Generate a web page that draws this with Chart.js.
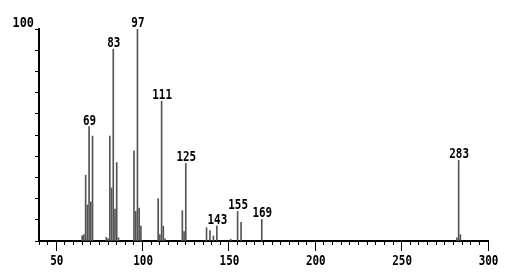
<!DOCTYPE html>
<html>
<head>
<meta charset="utf-8">
<script src="https://cdn.jsdelivr.net/npm/chart.js@4/dist/chart.umd.min.js"></script>
<style>
html,body{margin:0;padding:0;background:#fff;}
#wrap{width:522px;height:274px;position:relative;}
</style>
</head>
<body>
<div id="wrap"><canvas id="c" width="522" height="274"></canvas></div>
<script>
// m/z values of the peaks
const mz = [65,66,67,68,69,70,71,79,80,81,82,83,84,85,86,95,96,97,98,99,109,110,111,112,113,123,124,125,137,139,141,143,151,155,157,169,282,283,284];
// relative intensities (%)
const intensity = [2.5,3,31,17,54,18.5,49.5,1.7,1,49.5,25,90.5,15,37,1.5,42.5,14,100,15.5,7,20,3,66,7,1,14.3,4.4,36.6,6.3,4.9,2.4,7,0.8,14,8.8,10.2,1.5,38,3];
// peaks carrying a m/z label
const labeledPeaks = [69,83,97,111,125,143,155,169,283];
// axis tick labels
const xTickLabels = [50,100,150,200,250,300];
const yTickLabels = [100];

const FONT = "'DejaVu Sans Mono',monospace";
const SX = 0.78; // horizontal condensing of the narrow bitmap-like font

function drawNarrow(ctx, text, x, y, align, font, sx) {
  ctx.save();
  ctx.font = font;
  ctx.textAlign = align;
  ctx.textBaseline = 'alphabetic';
  ctx.translate(x, y);
  ctx.scale(sx, 1);
  ctx.fillText(text, 0, 0);
  ctx.restore();
}

const textLayer = {
  id: 'textLayer',
  afterDraw(chart) {
    const ctx = chart.ctx, xs = chart.scales.x, ys = chart.scales.y;
    ctx.save();
    ctx.fillStyle = '#000';
    // peak labels
    labeledPeaks.forEach(m => {
      const i = mz.indexOf(m);
      if (i < 0) return;
      const px = xs.getPixelForValue(m);
      const py = ys.getPixelForValue(intensity[i]);
      drawNarrow(ctx, String(m), px + 0.5, py - 2, 'center', "bold 14px " + FONT, SX);
    });
    // x tick labels
    xTickLabels.forEach(v => {
      drawNarrow(ctx, String(v), xs.getPixelForValue(v) + 0.5, xs.top + 24, 'center', "bold 14px " + FONT, SX);
    });
    // y tick labels
    yTickLabels.forEach(v => {
      drawNarrow(ctx, String(v), ys.left + ys.width - 5, ys.getPixelForValue(v) - 2, 'right', "bold 14px " + FONT, 0.85);
    });
    ctx.restore();
  }
};

new Chart(document.getElementById('c'), {
  type: 'bar',
  data: {
    datasets: [{
      data: mz.map((m, i) => ({x: m, y: intensity[i]})),
      backgroundColor: '#555',
      borderWidth: 0,
      barThickness: 1,
      xAxisID: 'x',
      yAxisID: 'y'
    }]
  },
  options: {
    responsive: false,
    animation: false,
    events: [],
    layout: {padding: {top: 29, right: 34, bottom: 0, left: 0}},
    plugins: {legend: {display: false}, tooltip: {enabled: false}},
    scales: {
      x: {
        type: 'linear', position: 'bottom', min: 40, max: 300, offset: false,
        weight: 1,
        afterFit: s => { s.height = 33; },
        border: {display: true, color: '#000', width: 2},
        grid: {
          offset: false, drawOnChartArea: false, drawTicks: true, tickLength: 10, lineWidth: 1,
          color: c => (c.tick && c.tick.value % 50 === 0) ? '#000' : 'rgba(0,0,0,0)'
        },
        ticks: {
          stepSize: 50, autoSkip: false, maxRotation: 0, padding: 0,
          font: {size: 1}, color: 'rgba(0,0,0,0)',
          callback: v => ' '
        }
      },
      x2: {
        type: 'linear', position: 'bottom', min: 40, max: 300, offset: false,
        weight: 0,
        afterFit: s => { s.height = 0; },
        border: {display: false},
        grid: {offset: false, drawOnChartArea: false, drawTicks: true, tickLength: 4, color: '#000', lineWidth: 1},
        ticks: {stepSize: 5, autoSkip: false, padding: 0, font: {size: 1}, color: 'rgba(0,0,0,0)', callback: () => ' '}
      },
      y: {
        type: 'linear', position: 'left', min: 0, max: 100,
        afterFit: s => { s.width = 39; },
        border: {display: true, color: '#000', width: 2},
        grid: {drawOnChartArea: false, drawTicks: true, tickLength: 4, color: '#000', lineWidth: 1},
        ticks: {
          stepSize: 10, autoSkip: false, padding: 0,
          font: {size: 1}, color: 'rgba(0,0,0,0)',
          callback: v => ' '
        }
      }
    }
  },
  plugins: [textLayer]
});
</script>
</body>
</html>
